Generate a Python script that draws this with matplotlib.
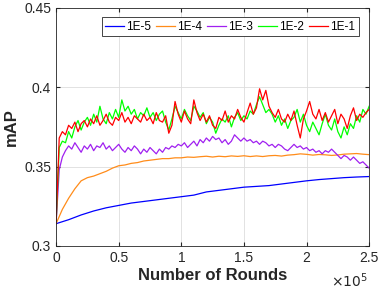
import numpy as np
import matplotlib.pyplot as plt

plt.rcParams['font.family'] = ['Liberation Sans', 'DejaVu Sans']

# x positions (number of rounds)
x_fine = np.arange(0, 250001, 2500)
x_mid = np.arange(0, 250001, 5000)
x_coarse = np.arange(0, 250001, 10000)

x_ticks = [0, 50000, 100000, 150000, 200000, 250000]
x_tick_labels = ['0', '0.5', '1', '1.5', '2', '2.5']
y_ticks = [0.3, 0.35, 0.4, 0.45]
y_tick_labels = ['0.3', '0.35', '0.4', '0.45']

# 1E-5 (blue), every 10000 rounds
map_1e5 = [0.314, 0.3165, 0.3195, 0.322, 0.324, 0.3255, 0.327, 0.328, 0.329, 0.330,
           0.331, 0.332, 0.334, 0.335, 0.336, 0.337, 0.3375, 0.338, 0.339, 0.340,
           0.341, 0.3418, 0.3424, 0.343, 0.3434, 0.3437]

# 1E-4 (orange), every 5000 rounds
map_1e4 = [0.314, 0.323, 0.330, 0.336, 0.341, 0.343, 0.344, 0.3455, 0.347, 0.349,
           0.3505, 0.351, 0.352, 0.3525, 0.3535, 0.354, 0.3545, 0.355, 0.355, 0.3555,
           0.3555, 0.356, 0.3558, 0.3562, 0.3565, 0.356, 0.3565, 0.3562, 0.3567, 0.3564,
           0.3568, 0.3563, 0.3567, 0.3563, 0.3568, 0.357, 0.3566, 0.3572, 0.3575, 0.358,
           0.3577, 0.3572, 0.3576, 0.3574, 0.357, 0.3573, 0.3578, 0.358, 0.3582, 0.3578,
           0.3575]

# 1E-3 (purple), every 2500 rounds
map_1e3 = [0.314, 0.348, 0.356, 0.360, 0.363, 0.361, 0.365, 0.362, 0.359, 0.363,
           0.361, 0.364, 0.360, 0.363, 0.362, 0.365, 0.361, 0.363, 0.360, 0.362,
           0.364, 0.361, 0.359, 0.362, 0.360, 0.363, 0.361, 0.358, 0.361, 0.359,
           0.362, 0.360, 0.358, 0.361, 0.359, 0.362, 0.361, 0.363, 0.362, 0.364,
           0.363, 0.365, 0.362, 0.364, 0.366, 0.363, 0.367, 0.365, 0.368, 0.366,
           0.369, 0.367, 0.368, 0.365, 0.367, 0.364, 0.366, 0.370, 0.368, 0.366,
           0.368, 0.366, 0.367, 0.365, 0.366, 0.364, 0.366, 0.365, 0.363, 0.364,
           0.362, 0.364, 0.363, 0.361, 0.360, 0.362, 0.364, 0.362, 0.363, 0.361,
           0.362, 0.360, 0.361, 0.359, 0.360, 0.358, 0.360, 0.359, 0.361, 0.359,
           0.357, 0.355, 0.357, 0.356, 0.354, 0.356, 0.354, 0.352, 0.353, 0.351,
           0.349]

# 1E-2 (green), every 2500 rounds
map_1e2 = [0.314, 0.362, 0.366, 0.365, 0.372, 0.368, 0.375, 0.379, 0.373, 0.378,
           0.381, 0.376, 0.383, 0.378, 0.388, 0.380, 0.377, 0.384, 0.380, 0.386,
           0.381, 0.392, 0.385, 0.388, 0.383, 0.386, 0.380, 0.384, 0.382, 0.387,
           0.381, 0.384, 0.379, 0.383, 0.385, 0.378, 0.373, 0.380, 0.388, 0.384,
           0.380, 0.386, 0.382, 0.379, 0.388, 0.385, 0.381, 0.384, 0.377, 0.381,
           0.378, 0.371, 0.376, 0.380, 0.378, 0.382, 0.375, 0.381, 0.384, 0.379,
           0.382, 0.380, 0.385, 0.383, 0.389, 0.394, 0.389, 0.384, 0.386, 0.383,
           0.378, 0.382, 0.376, 0.380, 0.374, 0.379, 0.381, 0.386, 0.378, 0.383,
           0.376, 0.372, 0.378, 0.374, 0.370, 0.377, 0.383, 0.376, 0.373, 0.380,
           0.372, 0.368, 0.375, 0.370, 0.377, 0.374, 0.382, 0.378, 0.386, 0.383,
           0.388]

# 1E-1 (red), every 2500 rounds
map_1e1 = [0.314, 0.368, 0.372, 0.370, 0.376, 0.374, 0.378, 0.372, 0.377, 0.379,
           0.375, 0.380, 0.377, 0.382, 0.376, 0.379, 0.383, 0.378, 0.376, 0.381,
           0.379, 0.384, 0.378, 0.381, 0.377, 0.382, 0.380, 0.378, 0.383, 0.379,
           0.381, 0.377, 0.384, 0.379, 0.378, 0.382, 0.371, 0.376, 0.391, 0.383,
           0.378, 0.385, 0.380, 0.377, 0.392, 0.384, 0.379, 0.383, 0.378, 0.382,
           0.376, 0.374, 0.381, 0.379, 0.385, 0.378, 0.382, 0.380, 0.386, 0.381,
           0.378, 0.384, 0.390, 0.383, 0.387, 0.399, 0.392, 0.398, 0.388, 0.384,
           0.381, 0.386, 0.380, 0.378, 0.383, 0.379, 0.385, 0.376, 0.368, 0.380,
           0.385, 0.391, 0.383, 0.380, 0.386, 0.379, 0.384, 0.378, 0.382, 0.386,
           0.377, 0.383, 0.380, 0.374, 0.382, 0.387, 0.379, 0.383, 0.381, 0.384,
           0.386]

fig = plt.figure(figsize=(3.79, 2.91), dpi=100)
ax = fig.add_axes([0.148, 0.155, 0.826, 0.818])

ax.plot(x_coarse, map_1e5, color='#0000FF', lw=0.9, label='1E-5')
ax.plot(x_mid, map_1e4, color='#FF8C1A', lw=0.9, label='1E-4')
ax.plot(x_fine, map_1e3, color='#A020F0', lw=0.9, label='1E-3')
ax.plot(x_fine, map_1e2, color='#00FF00', lw=0.9, label='1E-2')
ax.plot(x_fine, map_1e1, color='#FF0000', lw=0.9, label='1E-1')

ax.set_xlim(0, 250000)
ax.set_ylim(0.3, 0.45)
ax.set_xticks(x_ticks)
ax.set_xticklabels(x_tick_labels)
ax.set_yticks(y_ticks)
ax.set_yticklabels(y_tick_labels)
ax.text(0.997, -0.145, r'$\times10^5$', transform=ax.transAxes, ha='right',
        va='center', fontsize=10, color='#262626')

ax.grid(True, color='#dddddd', lw=0.6)
ax.tick_params(direction='in', length=3, labelsize=10, top=True, right=True,
               colors='#262626')
for s in ax.spines.values():
    s.set_color('#262626')
    s.set_linewidth(0.6)

ax.set_xlabel('Number of Rounds', fontsize=12, fontweight='bold', color='#262626', labelpad=2)
ax.set_ylabel('mAP', fontsize=12, fontweight='bold', color='#262626', labelpad=4)

leg = ax.legend(loc='upper right', ncol=5, fontsize=8.5, handlelength=1.6,
                handletextpad=0.2, columnspacing=0.4, borderpad=0.3,
                fancybox=False, framealpha=1, edgecolor='#262626',
                bbox_to_anchor=(0.985, 0.985))
leg.get_frame().set_linewidth(0.6)

fig.savefig('out.png', dpi=100)
